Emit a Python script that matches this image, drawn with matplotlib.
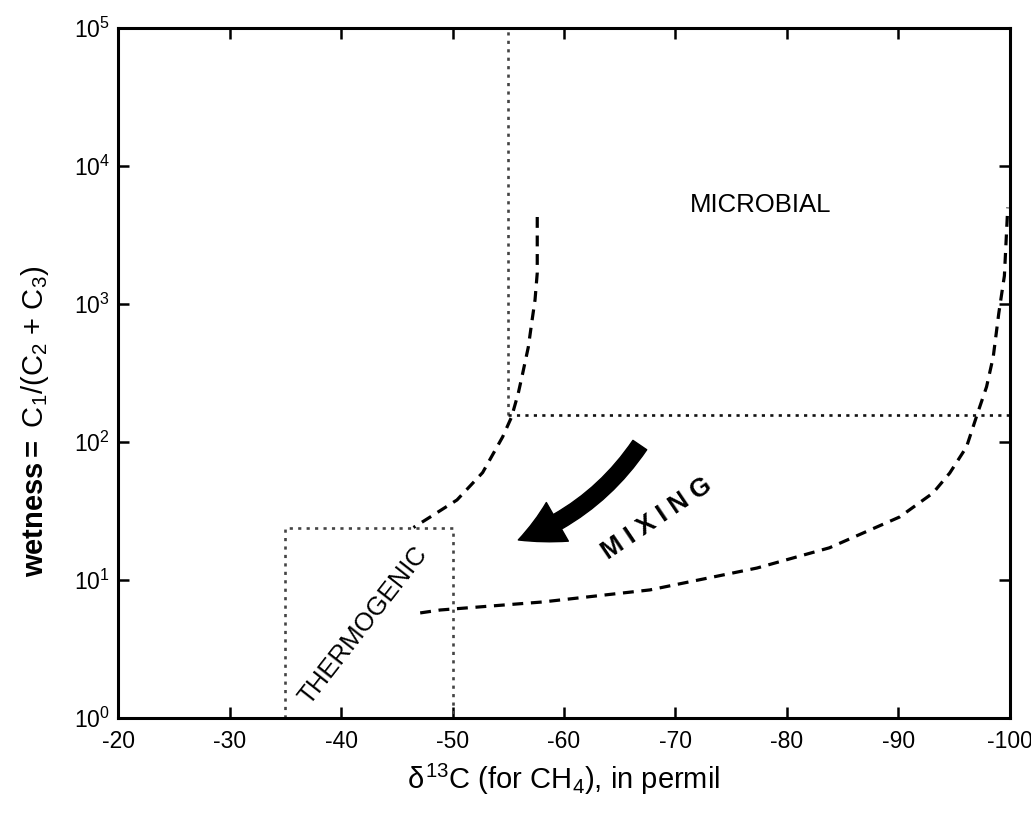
import matplotlib
matplotlib.use('Agg')
import matplotlib.pyplot as plt
from matplotlib.ticker import LogLocator, LogFormatterSciNotation, NullLocator

plt.rcParams['font.family'] = ['Liberation Sans', 'DejaVu Sans']
plt.rcParams['mathtext.fontset'] = 'custom'
plt.rcParams['mathtext.rm'] = 'Liberation Sans'
plt.rcParams['mathtext.it'] = 'Liberation Sans'
plt.rcParams['mathtext.bf'] = 'Liberation Sans:bold'
plt.rcParams['axes.unicode_minus'] = False

# thermogenic -> microbial boundary (left dashed curve)
left_x = [-57.6, -57.6, -57.4, -57.1, -56.8, -56.3, -55.9, -55.3, -54.5, -52.7, -50.4, -48.0, -46.5]
left_y = [4270, 1680, 1070, 728, 488, 316, 226, 152, 109, 60, 38, 28.6, 24]

# mixing boundary (right dashed curve)
right_x = [-47.1, -48.9, -58.1, -67.7, -77.3, -83.8, -90.1, -93.1, -94.6, -96.1, -97.1,
           -97.9, -98.5, -99.0, -99.5, -99.8]
right_y = [5.77, 6.06, 6.93, 8.47, 12.2, 17.1, 28.6, 42.7, 59.6, 92, 162, 251, 414, 860, 1600, 5000]

# microbial field limits (dotted)
micro_x = -55
micro_y = 158
# thermogenic box (dotted)
thermo_x = [-35, -50]
thermo_y = [1, 24]

# mixing arrow
arrow_tail = (-66.8, 95)
arrow_head = (-55.9, 19.5)

xticks = [-20, -30, -40, -50, -60, -70, -80, -90, -100]

fig = plt.figure(figsize=(10.31, 8.21), dpi=100)
ax = fig.add_axes([0.1145, 0.1255, 0.8651, 0.8404])

dash = (0, (3.4, 2.4))
ax.plot(left_x, left_y, color='black', lw=2.3, linestyle=dash)
ax.plot(right_x, right_y, color='black', lw=2.3, linestyle=dash)

dot = (0, (1.2, 2.0))
ax.plot([micro_x, micro_x], [micro_y, 1e5], color='#444444', lw=1.9, linestyle=dot)
ax.plot([micro_x, -100], [micro_y, micro_y], color='#111111', lw=1.9, linestyle=dot)
ax.plot([thermo_x[0], thermo_x[0], thermo_x[1], thermo_x[1]],
        [thermo_y[0], thermo_y[1], thermo_y[1], thermo_y[0]],
        color='#444444', lw=1.9, linestyle=dot)

ax.annotate('', xy=arrow_head, xytext=arrow_tail,
            arrowprops=dict(arrowstyle='simple,head_width=1.6,head_length=1.55,tail_width=0.6',
                            connectionstyle='arc3,rad=-0.16', fc='black', ec='black',
                            mutation_scale=20, shrinkA=0, shrinkB=0))

ax.text(-77.6, 5200, 'MICROBIAL', fontsize=18.5, ha='center', va='center')
ax.text(-42.0, 4.7, 'THERMOGENIC', fontsize=18.5, ha='center', va='center', rotation=52)
ax.text(-68.3, 28.0, 'M I X I N G', fontsize=18.5, fontweight='bold', ha='center',
        va='center', rotation=34)

ax.set_yscale('log')
ax.set_xlim(-20, -100)
ax.set_ylim(1, 1e5)
ax.set_xticks(xticks)
ax.set_xticklabels([str(t) for t in xticks])
ax.yaxis.set_major_locator(LogLocator(base=10, numticks=10))
ax.yaxis.set_major_formatter(LogFormatterSciNotation())
ax.yaxis.set_minor_locator(NullLocator())

ax.tick_params(direction='in', length=8, width=1.8, top=True, right=True,
               labelsize=16.5)
ax.tick_params(axis='x', pad=9)
ax.tick_params(axis='y', pad=6)
for s in ax.spines.values():
    s.set_linewidth(2.2)

ax.set_xlabel(r'$\delta^{13}$C (for CH$_4$), in permil', fontsize=21, labelpad=6)
ax.set_ylabel(r'$\mathbf{wetness=}$ C$_1$/(C$_2$ + C$_3$)', fontsize=21)
ax.yaxis.set_label_coords(-0.075, 0.43)

fig.savefig('out.png', dpi=100)
